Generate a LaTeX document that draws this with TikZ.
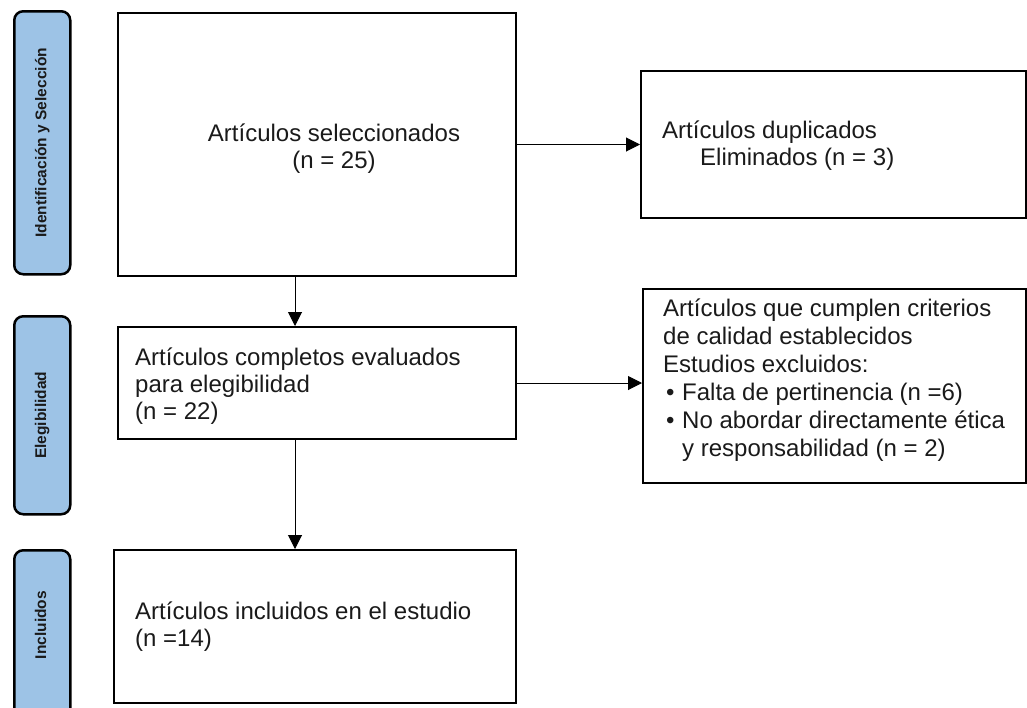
\documentclass[tikz,border=0pt]{standalone}
\usepackage{fontspec}
\setmainfont{Liberation Sans}
\usetikzlibrary{arrows.meta,calc}
\definecolor{lblue}{HTML}{9DC3E6}
\definecolor{txt}{HTML}{1A1A1A}
\tikzset{
  phase/.style={draw=black, line width=2.5pt, fill=lblue, rounded corners=9pt, anchor=north west, inner sep=0pt},
  phasetext/.style={rotate=90, font=\fontsize{15.5}{17}\selectfont\bfseries, text=txt},
  stepbox/.style={draw=black, line width=2pt, anchor=north west, inner sep=0pt},
  body/.style={font=\fontsize{24}{27}\selectfont, text=txt, inner sep=0pt, align=left, anchor=north west},
  arr/.style={line width=1pt, -{Triangle[length=14pt,width=14pt]}},
}
\begin{document}
\begin{tikzpicture}[x=1pt,y=-1pt]
\useasboundingbox (0,0) rectangle (1027,707);
\clip (0,0) rectangle (1027,707);
% phase labels
\node[phase, minimum width=56pt, minimum height=263pt] (p1) at (13,10) {};
\node[phasetext] (p1t) at (p1.center) {Identificación y Selección};
\node[phase, minimum width=56pt, minimum height=198pt] (p2) at (13,315) {};
\node[phasetext] (p2t) at (p2.center) {Elegibilidad};
\node[phase, minimum width=56pt, minimum height=180pt] (p3) at (13,549) {};
\node[phasetext] (p3t) at (40.5,625) {Incluidos};
% boxes
\node[stepbox, minimum width=398pt, minimum height=263pt] (A) at (117,12) {};
\node[body, align=center, anchor=center] (At) at (334,149) {Artículos seleccionados\\(n = 25)};
\node[stepbox, minimum width=385pt, minimum height=147pt] (B) at (640,70) {};
\node[body] (Bt) at (662,121) {Artículos duplicados\\\hspace*{38pt}Eliminados (n = 3)};
\node[stepbox, minimum width=398pt, minimum height=112pt] (C) at (117,326) {};
\node[body] (Ct) at (135,348) {Artículos completos evaluados\\para elegibilidad\\(n = 22)};
\node[stepbox, minimum width=383pt, minimum height=194pt] (D) at (642,288) {};
\node[body, font=\fontsize{24}{28}\selectfont] (Dt) at (663,299) {Artículos que cumplen criterios\\de calidad establecidos\\Estudios excluidos:\\\makebox[19pt][l]{\hspace*{3pt}\textbullet}Falta de pertinencia (n =6)\\\makebox[19pt][l]{\hspace*{3pt}\textbullet}No abordar directamente ética\\\hspace*{19pt}y responsabilidad (n = 2)};
\node[stepbox, minimum width=402pt, minimum height=153pt] (E) at (113,549) {};
\node[body] (Et) at (135,602) {Artículos incluidos en el estudio\\(n =14)};
% connectors
\coordinate (vx) at (295,0);
\draw[arr] (A.east) -- (B.west);
\draw[arr] (A.south -| vx) -- (C.north -| vx);
\draw[arr] (C.east) -- (C.east -| D.west);
\draw[arr] (C.south -| vx) -- (E.north -| vx);
\end{tikzpicture}
\end{document}
